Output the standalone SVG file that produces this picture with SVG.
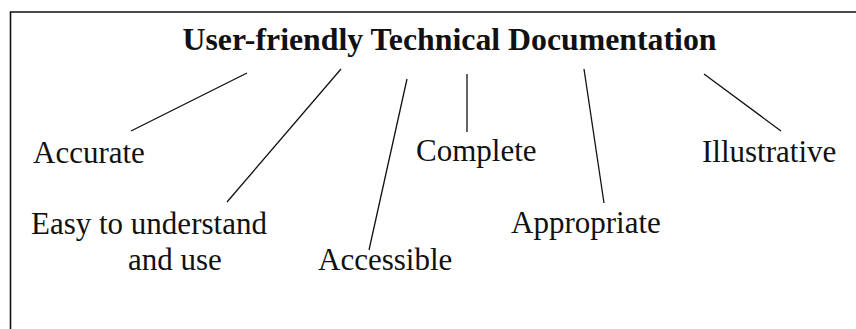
<svg xmlns="http://www.w3.org/2000/svg" width="856" height="329" viewBox="0 0 856 329">
<style>
.t{font-family:"Liberation Serif","Times New Roman",serif;font-size:31px;fill:#111}
.h{font-weight:bold;font-size:31.8px}
.c{stroke:#111;stroke-width:1.3;fill:none}
.b{stroke:#111;stroke-width:1.6;fill:none}
</style>
<rect width="856" height="329" fill="#fff"/>
<path class="b" d="M10.5,329 V12 H856"/>
<g id="title"><text class="t h" x="449.5" y="50" text-anchor="middle">User-friendly Technical Documentation</text></g>
<g id="accurate"><text class="t" x="33" y="163">Accurate</text></g>
<g id="easy"><text class="t" x="31" y="234">Easy to understand</text><text class="t" x="128" y="270">and use</text></g>
<g id="accessible"><text class="t" x="318" y="270">Accessible</text></g>
<g id="complete"><text class="t" x="416" y="161">Complete</text></g>
<g id="appropriate"><text class="t" x="511" y="233">Appropriate</text></g>
<g id="illustrative"><text class="t" x="702" y="162">Illustrative</text></g>
<g id="connectors">
<line class="c" x1="247" y1="73" x2="131" y2="131"/>
<line class="c" x1="341" y1="69" x2="227" y2="202"/>
<line class="c" x1="407" y1="79" x2="369" y2="250"/>
<line class="c" x1="467" y1="74" x2="467" y2="132"/>
<line class="c" x1="584" y1="69" x2="604" y2="203"/>
<line class="c" x1="704" y1="74" x2="781" y2="131"/>
</g>
</svg>
